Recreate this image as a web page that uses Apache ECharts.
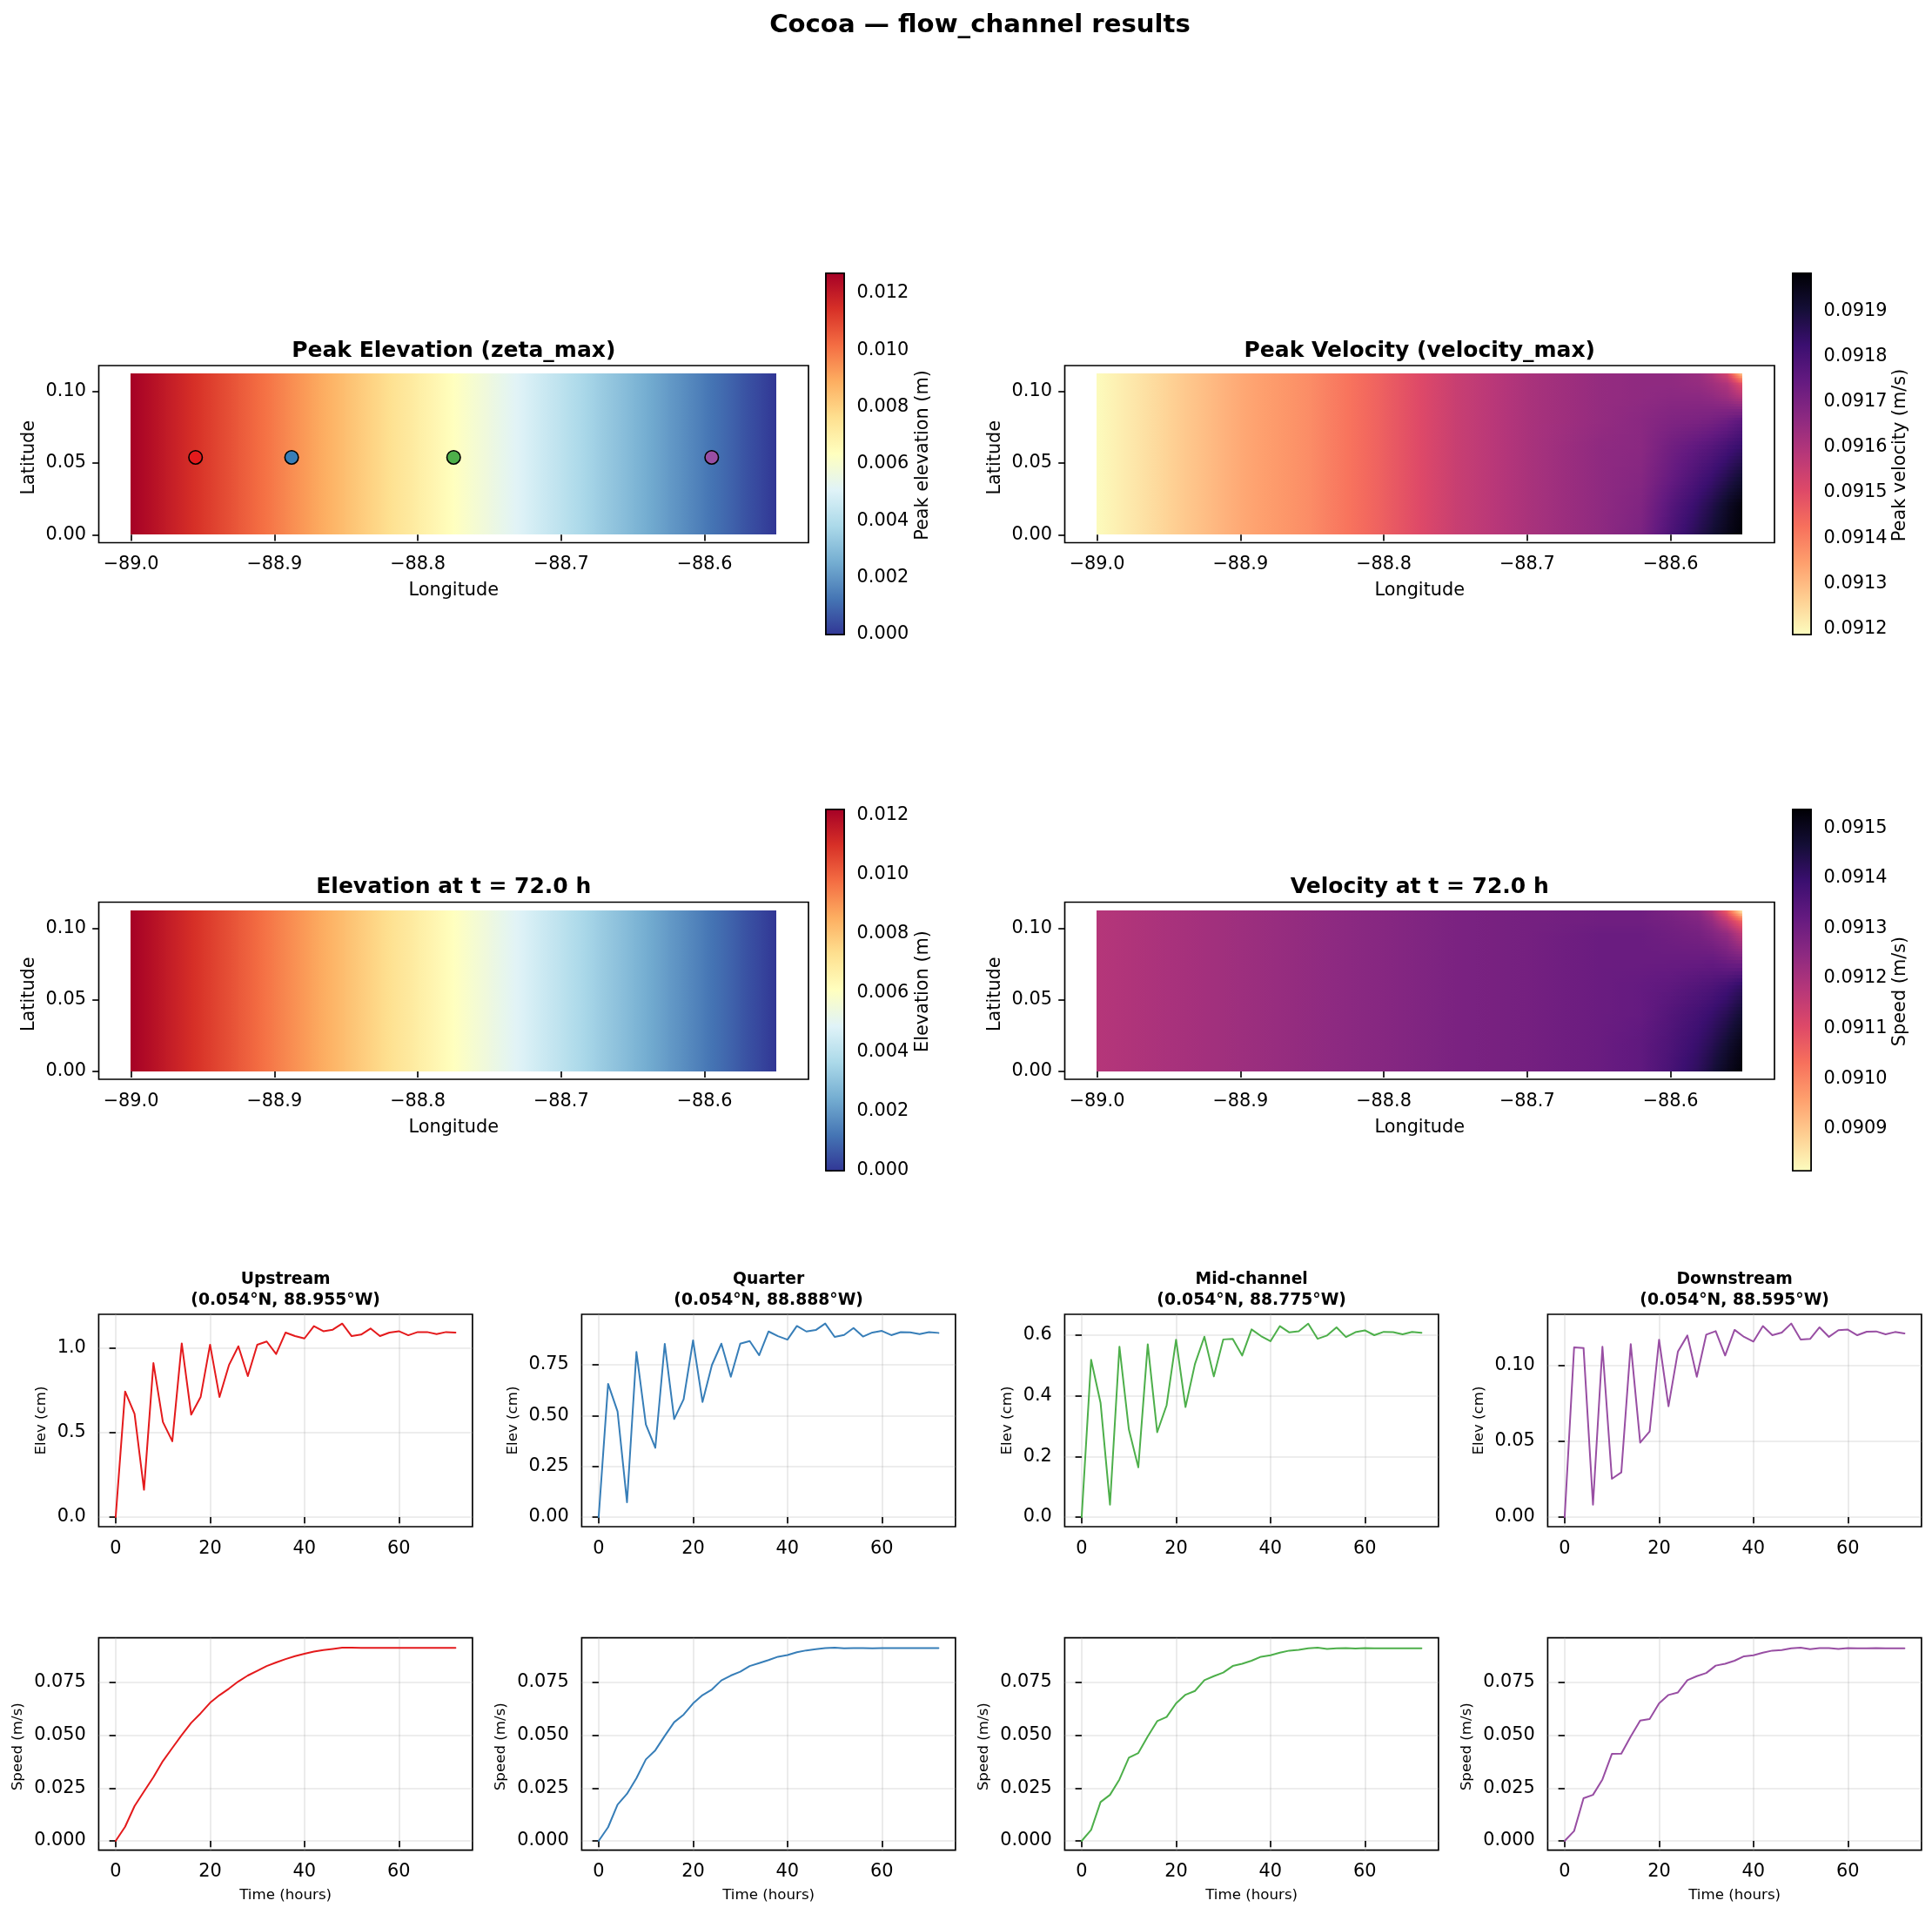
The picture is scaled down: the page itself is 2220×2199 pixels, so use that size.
<!DOCTYPE html>
<html>
<head>
<meta charset="utf-8">
<style>html,body{margin:0;padding:0;background:#fff}#c{width:2220px;height:2199px}</style>
<script src="https://cdn.jsdelivr.net/npm/echarts@6/dist/echarts.min.js"></script>
</head>
<body>
<div id="c"></div>
<script>
// ---------- values ----------
const hours = [0,2,4,6,8,10,12,14,16,18,20,22,24,26,28,30,32,34,36,38,40,42,44,46,48,50,52,54,56,58,60,62,64,66,68,70,72];

const elevUpstream = [0,.744,.612,.162,.912,.564,.449,1.029,.607,.711,1.021,.711,.900,1.012,.835,1.021,1.040,.966,1.093,1.072,1.058,1.131,1.101,1.110,1.146,1.072,1.081,1.117,1.072,1.093,1.101,1.077,1.096,1.096,1.084,1.096,1.093];
const elevQuarter = [0,.656,.52,.073,.813,.456,.341,.853,.483,.58,.87,.567,.749,.854,.691,.854,.867,.797,.914,.891,.874,.941,.914,.921,.953,.887,.897,.931,.889,.909,.917,.896,.911,.91,.901,.911,.907];
const elevMid = [0,.519,.377,.041,.562,.289,.164,.570,.280,.369,.585,.363,.505,.595,.464,.586,.588,.533,.619,.597,.580,.630,.609,.613,.638,.588,.599,.626,.594,.610,.616,.600,.611,.610,.603,.611,.608];
const elevDown = [0,.1121,.1117,.0082,.1125,.0253,.0295,.1142,.0492,.0565,.1171,.0732,.1094,.1199,.0927,.1205,.1228,.1067,.1236,.119,.1159,.1261,.1201,.1218,.1278,.1172,.1176,.1253,.119,.1234,.1238,.1201,.1224,.1226,.1207,.1222,.1213];

const speedUpstream = [0,.0067,.0165,.0234,.0302,.0378,.0440,.0501,.0559,.0604,.0654,.0690,.0721,.0755,.0783,.0805,.0828,.0845,.0861,.0875,.0886,.0896,.0904,.0909,.0915,.0915,.0914,.0914,.0914,.0914,.0914,.0914,.0914,.0914,.0914,.0914,.0914];
const speedQuarter = [0,.0065,.0172,.0223,.0297,.0386,.0429,.0497,.0562,.0598,.0651,.0690,.0717,.0760,.0783,.0801,.0828,.0842,.0856,.0872,.0880,.0893,.0902,.0908,.0913,.0915,.0912,.0913,.0913,.0912,.0913,.0913,.0913,.0913,.0913,.0913,.0913];
const speedMid = [0,.0052,.0184,.0218,.0291,.0394,.0416,.0495,.0567,.0587,.0651,.0692,.0710,.0761,.0780,.0797,.0828,.0839,.0853,.0872,.0879,.0891,.0901,.0905,.0912,.0915,.0909,.0912,.0913,.0911,.0913,.0912,.0912,.0912,.0912,.0912,.0912];
const speedDown = [0,.0047,.0202,.0218,.0291,.0412,.0413,.0495,.0570,.0577,.0651,.0691,.0703,.0761,.0780,.0795,.0830,.0839,.0853,.0874,.0879,.0891,.0901,.0904,.0912,.0915,.0908,.0913,.0913,.0909,.0913,.0912,.0912,.0913,.0912,.0912,.0912];

const stationNames = ['Upstream','Quarter','Mid-channel','Downstream'];
const stationLat = [0.054,0.054,0.054,0.054];
const stationLon = [-88.955,-88.888,-88.775,-88.595];
const stationColors = ['#e41a1c','#377eb8','#4daf4a','#984ea3'];

// elevation maps: value at each longitude node, same at both latitude edges
const elevLon = [-89,-88.975,-88.95,-88.925,-88.9,-88.875,-88.85,-88.825,-88.8,-88.775,-88.75,-88.725,-88.7,-88.675,-88.65,-88.625,-88.6,-88.575,-88.55];
const elevLat = [0,0.1125];
const peakElevRow = [.0127,.01199,.01129,.01058,.00988,.00917,.00847,.00776,.00706,.00635,.00564,.00494,.00423,.00353,.00282,.00212,.00141,.00071,0];
const endElevRow = [.01218,.0115,.01083,.01015,.00947,.00879,.00812,.00744,.00677,.00609,.00541,.00474,.00406,.00338,.00271,.00203,.00135,.00068,0];

// velocity maps: rows by latitude, columns by longitude
const velLon = [-89,-88.95,-88.9,-88.85,-88.8,-88.75,-88.7,-88.65,-88.62,-88.6,-88.58,-88.57,-88.56,-88.55];
const velLat = [0,.02,.04,.06,.08,.095,.105,.1125];
const peakVel = [
 [.09119,.09126,.09133,.09138,.09146,.09155,.09161,.09166,.09170,.09179,.09187,.09191,.09195,.09198],
 [.09119,.09126,.09133,.09138,.09146,.09155,.09161,.09166,.09169,.09177,.09184,.09188,.09193,.09197],
 [.09119,.09126,.09133,.09138,.09146,.09155,.09161,.09166,.09168,.09174,.09180,.09183,.09187,.09191],
 [.09119,.09126,.09133,.09138,.09146,.09155,.09161,.09166,.09167,.09172,.09176,.09178,.09181,.09184],
 [.09119,.09126,.09133,.09138,.09146,.09155,.09161,.09165,.09167,.09169,.09170,.09171,.09173,.09176],
 [.09119,.09126,.09133,.09138,.09146,.09155,.09161,.09165,.09166,.09167,.09167,.09166,.09164,.09160],
 [.09119,.09126,.09133,.09138,.09146,.09155,.09161,.09165,.09166,.09166,.09165,.09163,.09160,.09150],
 [.09119,.09126,.09133,.09138,.09146,.09155,.09161,.09165,.09166,.09166,.09164,.09160,.09152,.09128]
];
const endVel = [
 [.09118,.09120,.09122,.09124,.09126,.09128,.09129,.09131,.09133,.09137,.09142,.09146,.09150,.09153],
 [.09118,.09120,.09122,.09124,.09126,.09128,.09129,.09131,.09133,.09136,.09140,.09143,.09147,.09151],
 [.09118,.09120,.09122,.09124,.09126,.09128,.09129,.09131,.09132,.09135,.09138,.09140,.09143,.09147],
 [.09118,.09120,.09122,.09124,.09126,.09128,.09129,.09131,.09132,.09133,.09135,.09136,.09138,.09141],
 [.09118,.09120,.09122,.09124,.09126,.09128,.09129,.09131,.09131,.09131,.09131,.09131,.09129,.09127],
 [.09118,.09120,.09122,.09124,.09126,.09128,.09129,.09131,.09131,.09130,.09129,.09127,.09124,.09117],
 [.09118,.09120,.09122,.09124,.09126,.09128,.09129,.09130,.09130,.09129,.09127,.09123,.09115,.09105],
 [.09118,.09120,.09122,.09124,.09126,.09128,.09129,.09130,.09130,.09128,.09125,.09118,.09105,.09083]
];

const rdYlBuR = ['#313695','#4575b4','#74add1','#abd9e9','#e0f3f8','#ffffbf','#fee090','#fdae61','#f46d43','#d73027','#a50026'];
const magmaR = ['#fcfdbf','#fecf92','#fe9f6d','#f7705c','#de4968','#b73779','#8c2981','#641a80','#3b0f70','#140e36','#000004'];

const lonTicks = [-89,-88.9,-88.8,-88.7,-88.6];
const latTicks = [0,0.05,0.10];
const timeTicks = [0,20,40,60];
const elevBarTicks1 = [0,.002,.004,.006,.008,.010,.012];
const velBarTicks1 = [.0912,.0913,.0914,.0915,.0916,.0917,.0918,.0919];
const velBarTicks2 = [.0909,.0910,.0911,.0912,.0913,.0914,.0915];
const speedTicks = [0,.025,.05,.075];

// ---------- layout ----------
const FONT = '"DejaVu Sans"';
const TICK = 20.83, SMALL = 16.67, FRAME = 1.67, TL = 7.3;
const mapLeft = [113.5, 1223.5], mapW = 815.5;
const mapRows = [{top:420, h:203.5, barTop:314, barH:415}, {top:1036.5, h:203.5, barTop:930, barH:415}];
const barLeft = [949, 2060], barW = 21;
const tsLeft = [113.4, 668.4, 1223.4, 1778.4], tsW = 429.5;
const tsElevTop = 1510, tsSpeedTop = 1881.7, tsH = 244;

const grids = [], xAxes = [], yAxes = [], series = [], titles = [];

function axisBase(extra){
  return Object.assign({
    type:'value', scale:true, splitLine:{show:false}, axisLine:{show:false},
    nameMoveOverlap:false,
    axisTick:{show:true,length:TL,lineStyle:{color:'#000',width:FRAME}},
    nameTextStyle:{fontFamily:FONT,fontSize:TICK,color:'#000'}
  }, extra);
}
function labels(vals, fmt){
  return {customValues:vals, fontFamily:FONT, fontSize:TICK, color:'#000', margin:14.6, formatter:fmt, hideOverlap:false};
}
function ticks(vals){ return {show:true,customValues:vals,length:TL,lineStyle:{color:'#000',width:FRAME}}; }
const minusFix = s => s.replace('-', '\u2212');
function addGrid(left, top, w, h){
  grids.push({left, top, width:w, height:h, show:true, borderColor:'#000', borderWidth:FRAME, backgroundColor:'#fff', containLabel:false});
  return grids.length-1;
}
function colorAt(cmap, t){
  return echarts.color.lerp(Math.min(1,Math.max(0,t)), cmap);
}
function addHeat(gi, lons, lats, table, cmap, vmin, vmax){
  const data = [];
  for(let j=0;j<lats.length-1;j++) for(let i=0;i<lons.length-1;i++){
    data.push([lons[i],lats[j],lons[i+1],lats[j+1],table[j][i],table[j][i+1],table[j+1][i],table[j+1][i+1]]);
  }
  const rows = lats.length > 2 ? 8 : 1;
  const col = v => colorAt(cmap,(v-vmin)/(vmax-vmin));
  series.push({
    type:'custom', xAxisIndex:gi, yAxisIndex:gi, animation:false, silent:true, clip:false,
    dimensions:['x0','y0','x1','y1','a','b','c','d'], encode:{x:[0,2],y:[1,3]},
    data,
    renderItem(params, api){
      const p0 = api.coord([api.value(0),api.value(1)]);
      const p1 = api.coord([api.value(2),api.value(3)]);
      const a=api.value(4),b=api.value(5),c=api.value(6),d=api.value(7);
      const x0=Math.floor(p0[0]), x1=Math.ceil(p1[0]);
      const children=[];
      for(let r=0;r<rows;r++){
        const f0=r/rows, f1=(r+1)/rows, fm=(f0+f1)/2;
        const y0=Math.round(p0[1]+(p1[1]-p0[1])*f1), y1=Math.round(p0[1]+(p1[1]-p0[1])*f0);
        const l=a+(c-a)*fm, rr=b+(d-b)*fm;
        const stops=[];
        for(let s=0;s<=4;s++) stops.push({offset:s/4,color:col(l+(rr-l)*s/4)});
        children.push({type:'rect',shape:{x:x0,y:y0,width:x1-x0,height:y1-y0},
          style:{fill:new echarts.graphic.LinearGradient(0,0,1,0,stops)}});
      }
      return {type:'group',children};
    }
  });
}
function addBar(gi, cmap, vmin, vmax){
  series.push({
    type:'custom', xAxisIndex:gi, yAxisIndex:gi, animation:false, silent:true, clip:false,
    encode:{x:[0,2],y:[1,3]},
    data:[[0,vmin,1,vmax]],
    renderItem(params, api){
      const p0=api.coord([api.value(0),api.value(1)]);
      const p1=api.coord([api.value(2),api.value(3)]);
      return {type:'rect',shape:{x:p0[0],y:p1[1],width:p1[0]-p0[0],height:p0[1]-p1[1]},
        style:{stroke:'#000',lineWidth:FRAME,
          fill:new echarts.graphic.LinearGradient(0,1,0,0,cmap.map((c,i)=>({offset:i/(cmap.length-1),color:c})))}};
    }
  });
}
function addMap(col, row, titleText, lons, lats, table, cmap, vmin, vmax, barName, barTicks, barDigits, barGap){
  const R = mapRows[row], L = mapLeft[col];
  const g = addGrid(L,R.top,mapW,R.h);
  xAxes.push(axisBase({gridIndex:g,min:-89.0225,max:-88.5275,name:'Longitude',nameLocation:'middle',nameGap:45,
    axisLabel:labels(lonTicks,v=>minusFix(v.toFixed(1))),axisTick:ticks(lonTicks)}));
  yAxes.push(axisBase({gridIndex:g,min:-0.005625,max:0.118125,name:'Latitude',nameLocation:'middle',nameGap:69,nameRotate:90,
    nameTextStyle:{fontFamily:FONT,fontSize:TICK,color:'#000',padding:[0,8,0,0]},
    axisLabel:labels(latTicks,v=>v.toFixed(2)),axisTick:ticks(latTicks)}));
  addHeat(g,lons,lats,table,cmap,vmin,vmax);
  titles.push({text:titleText,left:L+mapW/2,top:R.top-17,padding:0,textAlign:'center',textVerticalAlign:'middle',
    textStyle:{fontFamily:FONT,fontSize:25,fontWeight:'bold',color:'#000'}});
  const b = addGrid(barLeft[col],R.barTop,barW,R.barH);
  xAxes.push({type:'value',gridIndex:b,min:0,max:1,show:false,splitLine:{show:false}});
  yAxes.push(axisBase({gridIndex:b,position:'right',min:vmin,max:vmax,name:barName,nameLocation:'middle',nameGap:barGap,nameRotate:90,
    nameTextStyle:{fontFamily:FONT,fontSize:TICK,color:'#000',padding:[0,3,0,0]},
    axisLabel:labels(barTicks,v=>v.toFixed(barDigits)),axisTick:ticks(barTicks)}));
  addBar(b,cmap,vmin,vmax);
  return g;
}
function addTs(col, top, values, ymin, ymax, yTicks, digits, yName, yGap, showX, namePad){
  const g = addGrid(tsLeft[col],top,tsW,tsH);
  const gridLine = {show:true,lineStyle:{color:'#b0b0b0',opacity:0.3,width:FRAME}};
  xAxes.push(axisBase(Object.assign({gridIndex:g,min:-3.6,max:75.6,splitLine:gridLine,
    axisLabel:labels(timeTicks,v=>String(v)),axisTick:ticks(timeTicks),
    nameTextStyle:{fontFamily:FONT,fontSize:SMALL,color:'#000'}},
    showX?{name:'Time (hours)',nameLocation:'middle',nameGap:43}:{})));
  yAxes.push(axisBase({gridIndex:g,min:ymin,max:ymax,splitLine:gridLine,name:yName,nameLocation:'middle',nameGap:yGap,nameRotate:90,
    axisLabel:labels(yTicks,v=>v.toFixed(digits)),axisTick:ticks(yTicks),
    nameTextStyle:{fontFamily:FONT,fontSize:SMALL,color:'#000',padding:[0,namePad,0,0]}}));
  series.push({type:'line',xAxisIndex:g,yAxisIndex:g,showSymbol:false,symbol:'none',animation:false,silent:true,
    lineStyle:{color:stationColors[col],width:2,join:'round',cap:'round'},
    data:hours.map((h,i)=>[h,values[i]])});
}

// ---------- build ----------
titles.push({text:'Cocoa \u2014 flow_channel results',left:1126,top:29.5,padding:0,textAlign:'center',textVerticalAlign:'middle',
  textStyle:{fontFamily:FONT,fontSize:29.17,fontWeight:'bold',color:'#000'}});

const elevPeakTable = [peakElevRow,peakElevRow], elevEndTable = [endElevRow,endElevRow];
const mainMap = addMap(0,0,'Peak Elevation (zeta_max)',elevLon,elevLat,elevPeakTable,rdYlBuR,0,0.0127,'Peak elevation (m)',elevBarTicks1,3,80);
addMap(1,0,'Peak Velocity (velocity_max)',velLon,velLat,peakVel,magmaR,0.091187,0.091984,'Peak velocity (m/s)',velBarTicks1,4,92);
addMap(0,1,'Elevation at t = 72.0 h',elevLon,elevLat,elevEndTable,rdYlBuR,0,0.01218,'Elevation (m)',elevBarTicks1,3,80);
addMap(1,1,'Velocity at t = 72.0 h',velLon,velLat,endVel,magmaR,0.090816,0.091537,'Speed (m/s)',velBarTicks2,4,92);

series.push({type:'scatter',xAxisIndex:mainMap,yAxisIndex:mainMap,animation:false,silent:true,symbolSize:15.5,z:5,
  data:stationLon.map((lon,i)=>({value:[lon,stationLat[i]],itemStyle:{color:stationColors[i],opacity:1,borderColor:'#000',borderWidth:1.6}}))});

const elevSets = [elevUpstream,elevQuarter,elevMid,elevDown];
const elevRanges = [[-0.0567,1.2011],[-0.0471,0.9986],[-0.0316,0.6689],[-0.0063,0.1339]];
const elevTickSets = [[0,.5,1],[0,.25,.5,.75],[0,.2,.4,.6],[0,.05,.10]];
const elevDigits = [1,2,1,2], elevGaps = [57,70,57,70];
const speedSets = [speedUpstream,speedQuarter,speedMid,speedDown];
stationNames.forEach((nm,i)=>{
  addTs(i,tsElevTop,elevSets[i],elevRanges[i][0],elevRanges[i][1],elevTickSets[i],elevDigits[i],'Elev (cm)',elevGaps[i],false,0);
  titles.push({text:nm+'\n('+stationLat[i].toFixed(3)+'\u00b0N, '+Math.abs(stationLon[i]).toFixed(3)+'\u00b0W)',
    left:tsLeft[i]+tsW/2,top:1482,padding:0,textAlign:'center',textVerticalAlign:'middle',
    textStyle:{fontFamily:FONT,fontSize:18.75,fontWeight:'bold',color:'#000',lineHeight:23.5}});
});
stationNames.forEach((nm,i)=>{
  addTs(i,tsSpeedTop,speedSets[i],-0.0044,0.09615,speedTicks,3,'Speed (m/s)',84,true,6);
});

const chart = echarts.init(document.getElementById('c'),null,{renderer:'canvas'});
chart.setOption({backgroundColor:'#fff',animation:false,title:titles,grid:grids,xAxis:xAxes,yAxis:yAxes,series});
</script>
</body>
</html>
